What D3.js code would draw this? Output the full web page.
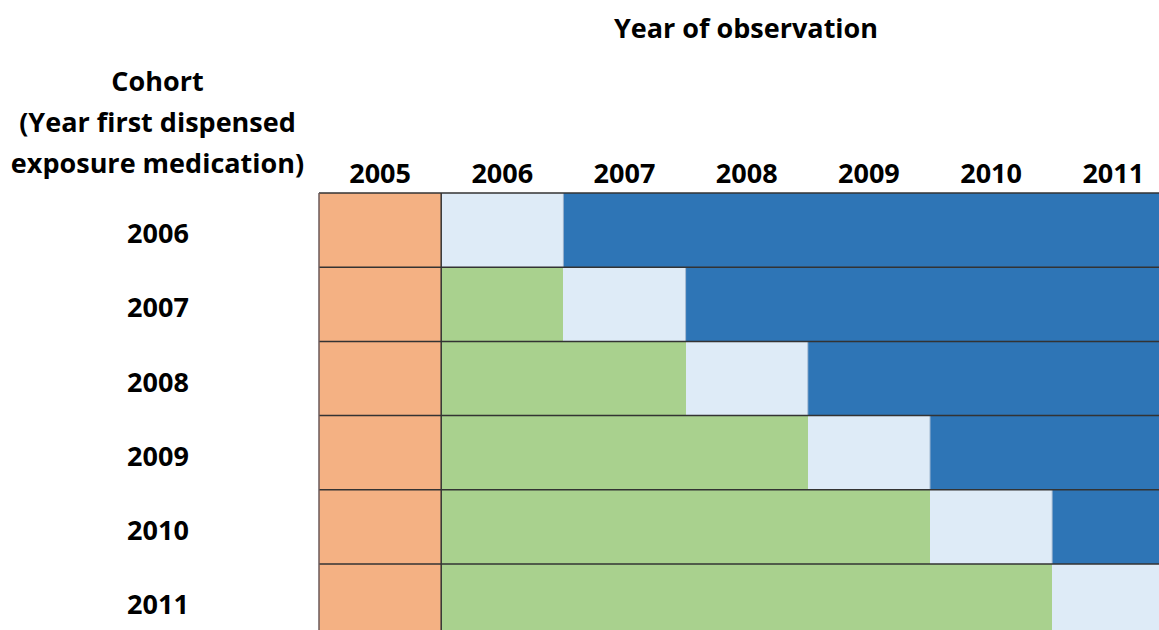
<!DOCTYPE html>
<html>
<head>
<meta charset="utf-8">
<script src="https://cdn.jsdelivr.net/npm/d3@7"></script>
<style>
  body { margin: 0; background: #fff; }
  svg text { font-family: "Open Sans", "Noto Sans", sans-serif; font-weight: bold; fill: #000; }
</style>
</head>
<body>
<svg width="1159" height="630"></svg>
<script>
// years of observation (columns) and cohorts (rows)
var years = ["2005", "2006", "2007", "2008", "2009", "2010", "2011"];
var cohorts = ["2006", "2007", "2008", "2009", "2010", "2011"];

// cell state per cohort row, one entry per year column
// B = baseline, P = pre-exposure, E = year first dispensed, F = follow-up
var row2006 = ["B", "E", "F", "F", "F", "F", "F"];
var row2007 = ["B", "P", "E", "F", "F", "F", "F"];
var row2008 = ["B", "P", "P", "E", "F", "F", "F"];
var row2009 = ["B", "P", "P", "P", "E", "F", "F"];
var row2010 = ["B", "P", "P", "P", "P", "E", "F"];
var row2011 = ["B", "P", "P", "P", "P", "P", "E"];
var rows = [row2006, row2007, row2008, row2009, row2010, row2011];

var stateKeys = ["B", "P", "E", "F"];
var stateColors = ["#F4B183", "#A9D18E", "#DEEBF7", "#2E75B6"];

window.onload = function () {
    build_chart();
}

function build_chart() {
    var svg = d3.select("svg");

    var left = 319, top = 193, colW = 122.2, rowH = 74.2;

    var x = d3.scaleBand()
        .domain(years)
        .range([left, left + colW * years.length]);

    var y = d3.scaleBand()
        .domain(cohorts)
        .range([top, top + rowH * cohorts.length]);

    var color = d3.scaleOrdinal().domain(stateKeys).range(stateColors);

    // flatten into cells
    var cells = [];
    cohorts.forEach(function (c, i) {
        years.forEach(function (yr, j) {
            cells.push({ cohort: c, year: yr, state: rows[i][j] });
        });
    });

    var g = svg.append("g");

    g.selectAll("rect.cell")
        .data(cells)
        .enter().append("rect")
        .attr("class", "cell")
        .attr("x", function (d) { return Math.round(x(d.year)); })
        .attr("y", function (d) { return Math.round(y(d.cohort)); })
        .attr("width", Math.round(x.bandwidth()) + 2)
        .attr("height", Math.round(y.bandwidth()) + 2)
        .attr("shape-rendering", "crispEdges")
        .attr("fill", function (d) { return color(d.state); });

    // faint separators between light and dark blue cells
    g.selectAll("line.sep")
        .data(cells.filter(function (d) {
            var i = cohorts.indexOf(d.cohort), j = years.indexOf(d.year);
            return d.state == "F" && rows[i][j - 1] == "E";
        }))
        .enter().append("line")
        .attr("class", "sep")
        .attr("x1", function (d) { return x(d.year); })
        .attr("x2", function (d) { return x(d.year); })
        .attr("y1", function (d) { return y(d.cohort); })
        .attr("y2", function (d) { return y(d.cohort) + y.bandwidth(); })
        .attr("stroke", "#9fb6cf")
        .attr("stroke-width", 1);

    // horizontal row lines
    var xEnd = x.range()[1];
    g.selectAll("line.hrow")
        .data(cohorts)
        .enter().append("line")
        .attr("class", "hrow")
        .attr("x1", left)
        .attr("x2", xEnd)
        .attr("y1", function (d) { return y(d); })
        .attr("y2", function (d) { return y(d); })
        .attr("stroke", "#333")
        .attr("stroke-width", 1.5);

    // vertical lines: left edge and after 2005
    g.selectAll("line.vcol")
        .data(["2005", "2006"])
        .enter().append("line")
        .attr("class", "vcol")
        .attr("x1", function (d) { return x(d); })
        .attr("x2", function (d) { return x(d); })
        .attr("y1", top)
        .attr("y2", y.range()[1])
        .attr("stroke", function (d) { return d == "2005" ? "#6b5a5a" : "#333"; })
        .attr("stroke-width", 1.5);

    // column labels
    g.selectAll("text.year")
        .data(years)
        .enter().append("text")
        .attr("class", "year")
        .attr("x", function (d) { return x(d) + x.bandwidth() / 2; })
        .attr("y", 183)
        .attr("text-anchor", "middle")
        .attr("font-size", 27)
        .text(function (d) { return d; });

    // row labels
    g.selectAll("text.cohort")
        .data(cohorts)
        .enter().append("text")
        .attr("class", "cohort")
        .attr("x", 158)
        .attr("y", function (d) { return y(d) + y.bandwidth() / 2 + 13; })
        .attr("text-anchor", "middle")
        .attr("font-size", 27)
        .text(function (d) { return d; });

    // titles
    svg.append("text")
        .attr("x", 746)
        .attr("y", 38)
        .attr("text-anchor", "middle")
        .attr("font-size", 27)
        .text("Year of observation");

    var cohortTitle = ["Cohort", "(Year first dispensed", "exposure medication)"];
    svg.selectAll("text.ctitle")
        .data(cohortTitle)
        .enter().append("text")
        .attr("class", "ctitle")
        .attr("x", 157.5)
        .attr("y", function (d, i) { return 91 + i * 41; })
        .attr("text-anchor", "middle")
        .attr("font-size", 27)
        .text(function (d) { return d; });
}
</script>
</body>
</html>
